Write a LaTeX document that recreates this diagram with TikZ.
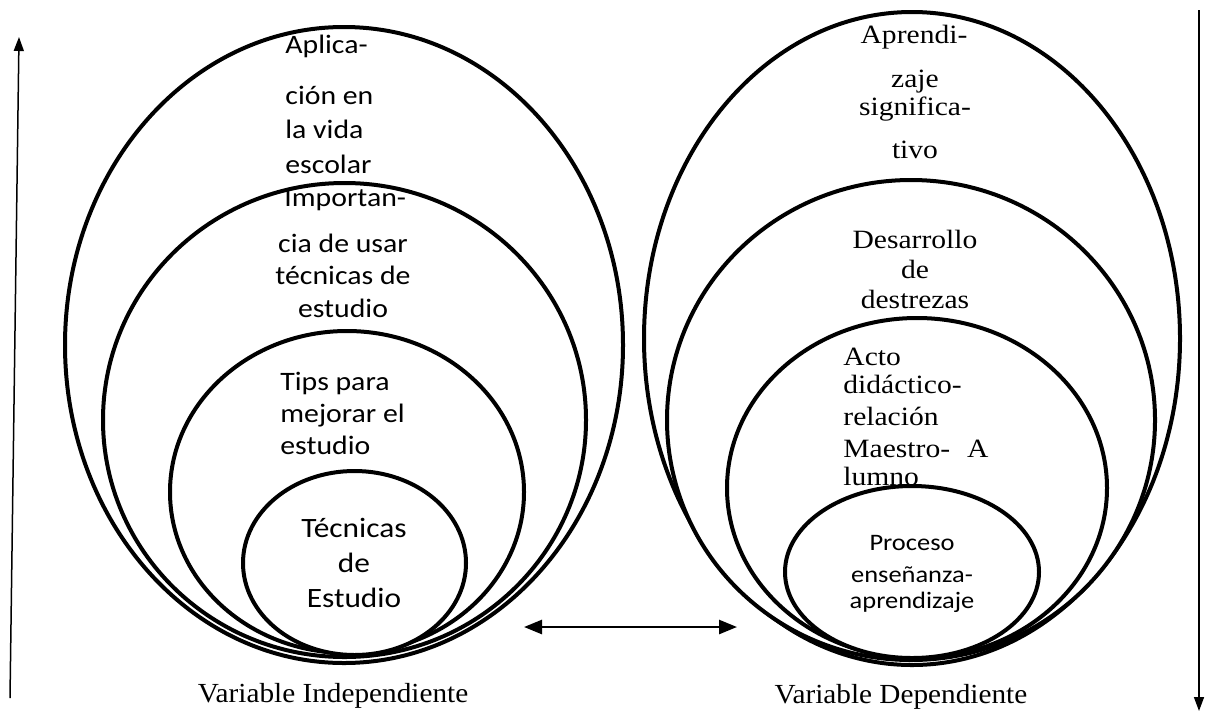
\documentclass[tikz,border=0pt]{standalone}
\usepackage{fontspec}
\setmainfont{Liberation Serif}
\newfontfamily\calfont[FakeStretch=1.12]{Carlito}
\newfontfamily\tmsfont[FakeStretch=1.12]{Liberation Serif}
\newfontfamily\lblfont[FakeStretch=1.06]{Liberation Serif}
\usetikzlibrary{arrows.meta}
\begin{document}
\begin{tikzpicture}[x=0.5pt,y=-0.5pt,
  ell/.style={line width=2pt, draw=black, fill=white},
  cal/.style={inner sep=0pt, font=\calfont\fontsize{13.3}{16}\selectfont},
  calbig/.style={inner sep=0pt, font=\calfont\fontsize{14}{17}\selectfont},
  calsmall/.style={inner sep=0pt, font=\calfont\fontsize{11.8}{14}\selectfont},
  tms/.style={inner sep=0pt, font=\tmsfont\fontsize{13.2}{16}\selectfont},
  lbl/.style={inner sep=0pt, font=\lblfont\fontsize{13.8}{16}\selectfont},
  thinarrow/.style={line width=0.75pt, -{Triangle[length=7pt,width=5pt]}},
  dblarrow/.style={line width=1.3pt, {Triangle[length=9pt,width=7pt]}-{Triangle[length=9pt,width=7pt]}}]
\useasboundingbox (0,0) rectangle (1209,713);

% ---------- left set ----------
\draw[ell] (344,345) ellipse [x radius=139.5pt, y radius=159pt];
\node[cal,anchor=base west] (a1) at (285,53) {Aplica-};
\node[cal,anchor=base west] (a2) at (285,104) {ción en};
\node[cal,anchor=base west] (a3) at (285,138) {la vida};
\node[cal,anchor=base west] (a4) at (285,173) {escolar};

\fill[white] (344.5,420) ellipse [x radius=120.75pt, y radius=118.5pt];
\node[cal,anchor=base west] (b1) at (284,206) {Importan-};
\draw[line width=2pt] (344.5,420) ellipse [x radius=120.75pt, y radius=118.5pt];
\node[cal,anchor=base] (b2) at (343,252) {cia de usar};
\node[cal,anchor=base] (b3) at (343,284) {técnicas de};
\node[cal,anchor=base] (b4) at (343,317) {estudio};

\draw[ell] (347,492) ellipse [x radius=88.5pt, y radius=80.5pt];
\node[cal,anchor=base west] (c1) at (280,390) {Tips para};
\node[cal,anchor=base west] (c2) at (280,422) {mejorar el};
\node[cal,anchor=base west] (c3) at (280,454) {estudio};

\draw[ell] (354.5,563) ellipse [x radius=55.75pt, y radius=46pt];
\node[calbig,anchor=base] (d1) at (354,537) {Técnicas};
\node[calbig,anchor=base] (d2) at (354,572) {de};
\node[calbig,anchor=base] (d3) at (354,607) {Estudio};

% ---------- right set ----------
\draw[ell] (912,338.5) ellipse [x radius=134pt, y radius=163.25pt];
\node[tms,anchor=base] (e1) at (914,43) {Aprendi-};
\node[tms,anchor=base] (e2) at (915,87) {zaje};
\node[tms,anchor=base] (e3) at (915,115) {significa-};
\node[tms,anchor=base] (e4) at (915,158) {tivo};

\draw[ell] (911,420) ellipse [x radius=122pt, y radius=120pt];
\node[tms,anchor=base] (f1) at (915,248) {Desarrollo};
\node[tms,anchor=base] (f2) at (915,278) {de};
\node[tms,anchor=base] (f3) at (915,308) {destrezas};

\draw[ell] (917,488) ellipse [x radius=95pt, y radius=85pt];
\node[tms,anchor=base west] (g1) at (843,365) {Acto};
\node[tms,anchor=base west] (g2) at (843,393) {didáctico-};
\node[tms,anchor=base west] (g3) at (843,425) {relación};
\node[tms,anchor=base west] (g4) at (843,457) {Maestro-\hspace{8.5pt}A};
\node[tms,anchor=base west] (g5) at (843,485) {lumno};

\draw[ell] (912,572) ellipse [x radius=63.5pt, y radius=43pt];
\node[calsmall,anchor=base] (h1) at (912,550) {Proceso};
\node[calsmall,anchor=base] (h2) at (912,582) {enseñanza-};
\node[calsmall,anchor=base] (h3) at (912,608) {aprendizaje};

% ---------- labels ----------
\node[lbl,anchor=base] (vi) at (333,702) {Variable Independiente};
\node[lbl,anchor=base] (vd) at (901,703) {Variable Dependiente};

% ---------- arrows ----------
\coordinate (la0) at (10,698);
\coordinate (la1) at (19,37);
\draw[thinarrow] (la0) -- (la1);
\coordinate (ra0) at (1199,10);
\coordinate (ra1) at (1199,711);
\draw[thinarrow] (ra0) -- (ra1);
\coordinate (dl) at (524,627);
\coordinate (dr) at (737,627);
\draw[dblarrow] (dl) -- (dr);
\end{tikzpicture}
\end{document}
